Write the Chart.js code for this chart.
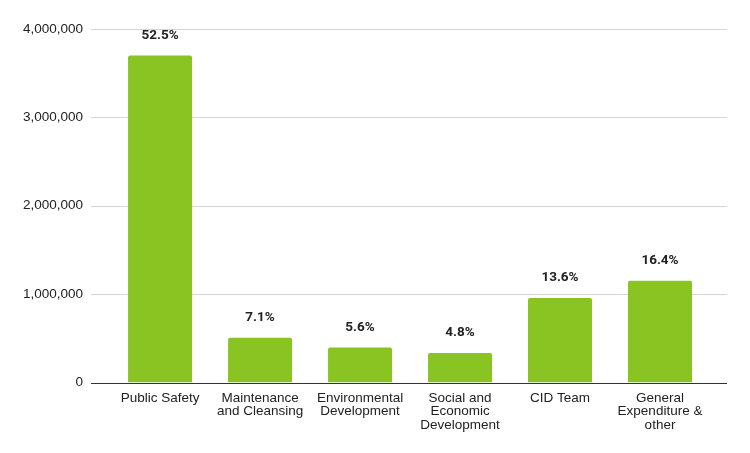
<!DOCTYPE html>
<html lang="en">
<head>
    <meta charset="UTF-8">
    <title>Budget by category</title>
    <script src="https://cdn.jsdelivr.net/npm/chart.js"></script>
    <style>
        html, body { margin: 0; padding: 0; background: #fff; }
        #wrap { width: 750px; height: 453px; }
    </style>
</head>
<body>
    <div id="wrap"><canvas id="budgetChart"></canvas></div>

    <script>
        const categories = [
            'Public Safety',
            ['Maintenance', 'and Cleansing'],
            ['Environmental', 'Development'],
            ['Social and', 'Economic', 'Development'],
            'CID Team',
            ['General', 'Expenditure &', 'other']
        ];
        const amounts = [3700000, 505000, 395000, 335000, 955000, 1150000];
        const shareLabels = ['52.5%', '7.1%', '5.6%', '4.8%', '13.6%', '16.4%'];
        const yTicks = [0, 1000000, 2000000, 3000000, 4000000];

        // horizontal grid lines run wider than the bars, like the original
        const gridPlugin = {
            id: 'wideGrid',
            beforeDatasetsDraw(chart) {
                const ctx = chart.ctx;
                const y = chart.scales.y;
                const left = chart.chartArea.left - 19;
                const right = chart.chartArea.right + 17;
                ctx.save();
                yTicks.forEach(v => {
                    const py = Math.round(y.getPixelForValue(v)) + 0.5;
                    ctx.strokeStyle = v === 0 ? '#333333' : '#d4d4d4';
                    ctx.lineWidth = 1;
                    ctx.beginPath();
                    ctx.moveTo(left, py);
                    ctx.lineTo(right, py);
                    ctx.stroke();
                });
                ctx.restore();
            }
        };

        const valueLabels = {
            id: 'valueLabels',
            afterDatasetsDraw(chart) {
                const ctx = chart.ctx;
                const meta = chart.getDatasetMeta(0);
                ctx.save();
                ctx.font = 'bold 13.5px Roboto, "Liberation Sans", Arial, sans-serif';
                ctx.fillStyle = '#222222';
                ctx.textAlign = 'center';
                ctx.textBaseline = 'middle';
                meta.data.forEach((bar, i) => {
                    ctx.fillText(shareLabels[i], bar.x, bar.y - 20);
                });
                ctx.restore();
            }
        };

        new Chart(document.getElementById('budgetChart'), {
            type: 'bar',
            data: {
                labels: categories,
                datasets: [{
                    data: amounts,
                    backgroundColor: '#89c422',
                    borderRadius: 2,
                    borderSkipped: 'bottom',
                    categoryPercentage: 1,
                    barPercentage: 0.64
                }]
            },
            options: {
                responsive: true,
                maintainAspectRatio: false,
                animation: false,
                layout: { padding: { left: 4, right: 40, top: 29, bottom: 12 } },
                plugins: {
                    legend: { display: false },
                    tooltip: { enabled: false }
                },
                scales: {
                    x: {
                        grid: { display: false, drawTicks: false },
                        border: { display: false },
                        ticks: {
                            color: '#222222',
                            font: { family: '"Liberation Sans", Arial, sans-serif', size: 13.5, lineHeight: 1.0 },
                            padding: 9,
                            maxRotation: 0,
                            autoSkip: false
                        }
                    },
                    y: {
                        min: 0,
                        max: 4000000,
                        afterBuildTicks(axis) {
                            axis.ticks = yTicks.map(v => ({ value: v }));
                        },
                        grid: { display: false },
                        border: { display: false },
                        ticks: {
                            color: '#222222',
                            font: { family: '"Liberation Sans", Arial, sans-serif', size: 13.5 },
                            padding: 19,
                            callback: v => v.toLocaleString('en-US')
                        }
                    }
                }
            },
            plugins: [gridPlugin, valueLabels]
        });
    </script>
</body>
</html>
